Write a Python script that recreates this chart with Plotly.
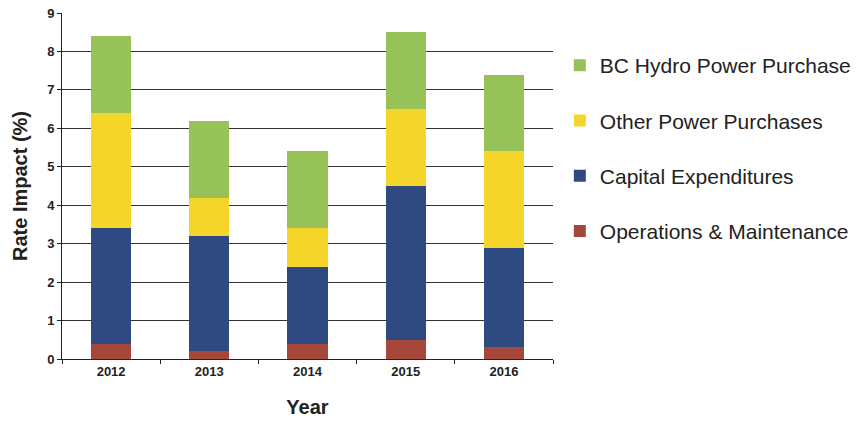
import plotly.graph_objects as go

years = ["2012", "2013", "2014", "2015", "2016"]
operations_maintenance = [0.4, 0.2, 0.4, 0.5, 0.3]
capital_expenditures = [3.0, 3.0, 2.0, 4.0, 2.6]
other_power_purchases = [3.0, 1.0, 1.0, 2.0, 2.5]
bc_hydro_power_purchase = [2.0, 2.0, 2.0, 2.0, 2.0]

# stacked bottom to top; legend lists them top to bottom
series = [
    ("Operations & Maintenance", operations_maintenance, "#A5473A", 4),
    ("Capital Expenditures", capital_expenditures, "#2F4A80", 3),
    ("Other Power Purchases", other_power_purchases, "#F6D52A", 2),
    ("BC Hydro Power Purchase", bc_hydro_power_purchase, "#96C258", 1),
]

fig = go.Figure()
for name, vals, color, rank in series:
    fig.add_trace(go.Bar(
        x=years, y=vals, name=name, legendgroup=name, legendrank=rank,
        marker=dict(color=color, line=dict(width=0)),
    ))

fig.update_layout(
    barmode="stack",
    bargap=0.59,
    width=856, height=421,
    margin=dict(l=62, r=303, t=13, b=62),
    paper_bgcolor="white",
    plot_bgcolor="white",
    font=dict(family="Arial, Liberation Sans, sans-serif", color="#222"),
    legend=dict(
        xref="container", yref="container",
        x=0.654, xanchor="left", y=0.893, yanchor="top",
        traceorder="grouped", tracegroupgap=25,
        font=dict(size=21, color="#222"),
        itemwidth=30,
    ),
    xaxis=dict(
        title=dict(text="<b>Year</b>", font=dict(size=20, color="#222"), standoff=22),
        automargin=False,
        tickfont=dict(size=13, color="#222"),
        tickprefix="<b>", ticksuffix="</b>",
        showline=True, linecolor="#222", linewidth=1,
        ticks="outside", tickson="boundaries", ticklen=4, tickcolor="#222",
        showgrid=False,
    ),
    yaxis=dict(
        title=dict(text="<b>Rate Impact (%)</b>", font=dict(size=20, color="#222"), standoff=14),
        automargin=False,
        range=[0, 9], dtick=1,
        tickfont=dict(size=13, color="#222"),
        tickprefix="<b>", ticksuffix="</b>",
        showline=True, linecolor="#222", linewidth=1,
        ticks="outside", ticklen=4, tickcolor="#222",
        showgrid=True, gridcolor="#333", gridwidth=1,
        zeroline=False,
    ),
)

fig.write_html("out.html")
